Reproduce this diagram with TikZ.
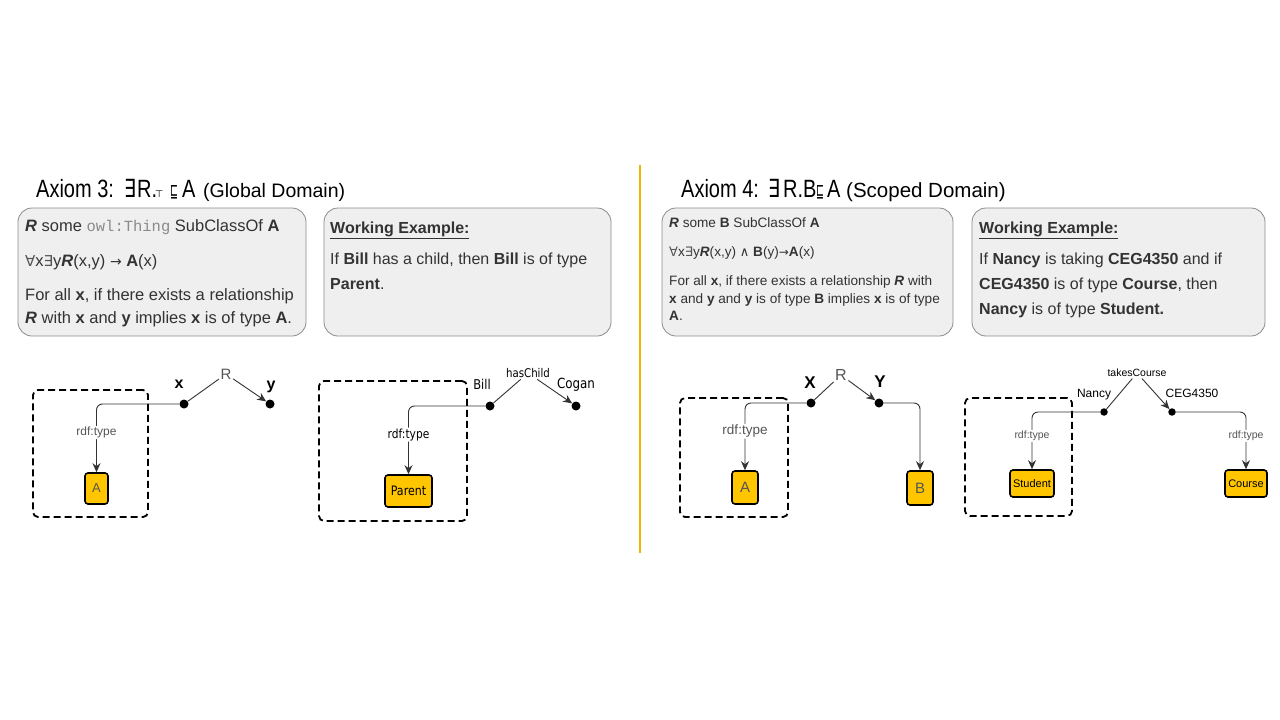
\documentclass[tikz,border=0pt]{standalone}
\usepackage{fontspec}
\setmainfont{Liberation Sans}
\setmonofont{Liberation Mono}
\newfontfamily\titlefont[FakeStretch=0.80]{Liberation Sans}
\newfontfamily\symfont{DejaVu Sans}
\newfontfamily\symtitle[FakeStretch=0.75]{DejaVu Sans}
\newfontfamily\sqfont[FakeStretch=0.5]{DejaVu Sans}
\newfontfamily\gfont[FakeStretch=0.85]{DejaVu Sans}
\usetikzlibrary{arrows.meta}
\definecolor{boxfill}{HTML}{EFEFEF}
\definecolor{boxline}{HTML}{8C8C8C}
\definecolor{gold}{HTML}{FFC600}
\definecolor{divider}{HTML}{F2B600}
\definecolor{txt}{HTML}{333333}
\definecolor{edge}{HTML}{333333}
\definecolor{soft}{HTML}{555555}
\definecolor{mono}{HTML}{8A8A8A}
\newcommand{\setfs}[1]{\fontsize{#1}{#1}\selectfont}
\begin{document}
\begin{tikzpicture}[x=1pt,y=-1pt,
  panel/.style={draw=boxline, fill=boxfill, rounded corners=14pt, line width=0.8pt, inner sep=0pt},
  frame/.style={draw=black, line width=1.8pt, dash pattern=on 7pt off 4pt, rounded corners=5pt, inner sep=0pt},
  cls/.style={draw=black, fill=gold, line width=1.6pt, rounded corners=3pt, inner sep=0pt},
  dot/.style={circle, fill=black, inner sep=0pt, minimum size=9pt},
  sdot/.style={circle, fill=black, inner sep=0pt, minimum size=7.5pt},
  lbl/.style={inner sep=0pt, anchor=base},
  tl/.style={anchor=base west, inner sep=0pt, text=txt},
  ttl/.style={anchor=base west, inner sep=0pt, text=black},
  rel/.style={inner sep=1.5pt},
  typ/.style={fill=white, inner sep=1pt, text=soft},
  link/.style={draw=edge, line width=0.9pt},
  arr/.style={link, -{Stealth[length=9pt,width=8pt]}}
]
\useasboundingbox (0,0) rectangle (1280,720);
\fill[white] (0,0) rectangle (1280,720);

% divider
\draw[divider, line width=1.5pt] (640,165) -- (640,553);

% title of axiom 3
\node[ttl, font=\titlefont\setfs{25}] (t3a) at (36,197) {Axiom 3:};
\node[ttl, font=\symtitle\setfs{25}] (t3b) at (124,197) {∃};
\node[ttl, font=\titlefont\setfs{25}] (t3c) at (137,197) {R.};
\node[ttl, font=\symfont\setfs{9.5}] (t3d) at (155,197) {⊤};
\node[ttl, font=\sqfont\setfs{19}] (t3e) at (170,197) {⊑};
\node[ttl, font=\titlefont\setfs{25}] (t3f) at (182,197) {A};
\node[ttl, font=\setfs{19.5}] (t3g) at (203,197) {(Global Domain)};

% title of axiom 4
\node[ttl, font=\titlefont\setfs{25}] (t4a) at (681,197) {Axiom 4:};
\node[ttl, font=\symtitle\setfs{25}] (t4b) at (768,197) {∃};
\node[ttl, font=\titlefont\setfs{25}] (t4c) at (783,197) {R.B};
\node[ttl, font=\sqfont\setfs{19}] (t4e) at (816,197) {⊑};
\node[ttl, font=\titlefont\setfs{25}] (t4f) at (827,197) {A};
\node[ttl, font=\setfs{20.5}] (t4g) at (846,197) {(Scoped Domain)};

% panels
\node[panel, minimum width=288pt, minimum height=128pt] (p1) at (162,272) {};
\node[panel, minimum width=287pt, minimum height=128pt] (p2) at (467.5,272) {};
\node[panel, minimum width=291pt, minimum height=128pt] (p3) at (807.5,272) {};
\node[panel, minimum width=293pt, minimum height=128pt] (p4) at (1118.5,272) {};

% panel 1 text
\node[tl, font=\setfs{16.5}] (p1a) at (25,231) {\textbf{\textit{R}} some {\ttfamily\color{mono}\setfs{15.5}owl:Thing} SubClassOf \textbf{A}};
\node[tl, font=\setfs{16.5}] (p1b) at (25,266) {{\symfont\color{soft}\setfs{15}∀}x{\symfont\color{soft}\setfs{15}∃}y\textbf{\textit{R}}(x,y) {\symfont\setfs{14}→} \textbf{A}(x)};
\node[tl, font=\setfs{16.5}] (p1c) at (25,300) {For all \textbf{x}, if there exists a relationship};
\node[tl, font=\setfs{16.5}] (p1d) at (25,323) {\textbf{\textit{R}} with \textbf{x} and \textbf{y} implies \textbf{x} is of type \textbf{A}.};

% panel 2 text
\node[tl, font=\setfs{16}] (p2a) at (330,233) {\textbf{\underline{Working Example:}}};
\node[tl, font=\setfs{16}] (p2b) at (330,264) {If \textbf{Bill} has a child, then \textbf{Bill} is of type};
\node[tl, font=\setfs{16}] (p2c) at (330,289) {\textbf{Parent}.};

% panel 3 text
\node[tl, font=\setfs{13.6}] (p3a) at (669,227) {\textbf{\textit{R}} some \textbf{B} SubClassOf \textbf{A}};
\node[tl, font=\setfs{13.6}] (p3b) at (669,256) {{\symfont\color{soft}\setfs{13}∀}x{\symfont\color{soft}\setfs{13}∃}y\textbf{\textit{R}}(x,y) {\symfont\setfs{13}∧} \textbf{B}(y){\symfont\setfs{12}→}\textbf{A}(x)};
\node[tl, font=\setfs{13.6}] (p3c) at (669,285) {For all \textbf{x}, if there exists a relationship \textbf{\textit{R}} with};
\node[tl, font=\setfs{13.6}] (p3d) at (669,303) {\textbf{x} and \textbf{y} and \textbf{y} is of type \textbf{B} implies \textbf{x} is of type};
\node[tl, font=\setfs{13.6}] (p3e) at (669,320) {\textbf{A}.};

% panel 4 text
\node[tl, font=\setfs{16}] (p4a) at (979,233) {\textbf{\underline{Working Example:}}};
\node[tl, font=\setfs{16}] (p4b) at (979,264) {If \textbf{Nancy} is taking \textbf{CEG4350} and if};
\node[tl, font=\setfs{16}] (p4c) at (979,289) {\textbf{CEG4350} is of type \textbf{Course}, then};
\node[tl, font=\setfs{16}] (p4d) at (979,314) {\textbf{Nancy} is of type \textbf{Student.}};

% ---------- diagram 1 ----------
\node[frame, minimum width=115pt, minimum height=127pt] (f1) at (90.5,453.5) {};
\node[dot] (x1) at (184,404) {};
\node[dot] (y1) at (270,404) {};
\node[rel, font=\setfs{15}, text=soft] (r1) at (226,374) {R};
\node[cls, minimum width=23pt, minimum height=31pt, font=\setfs{13}, text=soft] (a1) at (96.5,488.5) {A};
\node[lbl, font=\bfseries\setfs{16}] (xl1) at (179,388) {x};
\node[lbl, font=\bfseries\setfs{16}] (yl1) at (271,389) {y};
\draw[link] (x1) -- (r1);
\draw[arr] (r1) -- (y1);
\draw[arr, rounded corners=6pt] (x1) -| node[typ, pos=0.71, font=\setfs{12}] (ty1) {rdf:type} (a1);

% ---------- diagram 2 ----------
\node[frame, minimum width=148pt, minimum height=140pt] (f2) at (393,451) {};
\node[dot] (bill) at (490,406) {};
\node[dot] (cogan) at (576,406) {};
\node[rel, font=\gfont\setfs{12}] (hc) at (528,373) {hasChild};
\node[cls, minimum width=47pt, minimum height=32pt, font=\gfont\setfs{13}] (par) at (408.5,491) {Parent};
\node[lbl, font=\gfont\setfs{13.5}] (billl) at (482,389) {Bill};
\node[lbl, font=\gfont\setfs{14}] (cogl) at (576,388) {Cogan};
\draw[link] (bill) -- (hc);
\draw[arr] (hc) -- (cogan);
\draw[arr, rounded corners=6pt] (bill) -| node[typ, pos=0.71, font=\gfont\setfs{12.5}, text=black] (ty2) {rdf:type} (par);

% ---------- diagram 3 ----------
\node[frame, minimum width=108pt, minimum height=119pt] (f3) at (734,457.5) {};
\node[dot] (xx) at (811,403) {};
\node[dot] (yy) at (879,403) {};
\node[rel, font=\setfs{16}, text=soft] (r3) at (841,375) {R};
\node[cls, minimum width=26pt, minimum height=33pt, font=\setfs{15}, text=soft] (a3) at (745,487.5) {A};
\node[cls, minimum width=26pt, minimum height=34pt, font=\setfs{15}, text=soft] (b3) at (920,488) {B};
\node[lbl, font=\bfseries\setfs{17}] (xl3) at (810,388) {X};
\node[lbl, font=\bfseries\setfs{17}] (yl3) at (880,387) {Y};
\draw[link] (xx) -- (r3);
\draw[arr] (r3) -- (yy);
\draw[arr, rounded corners=6pt] (xx) -| node[typ, pos=0.71, font=\setfs{13.5}] (ty3) {rdf:type} (a3);
\draw[arr, rounded corners=6pt] (yy) -| (b3);

% ---------- diagram 4 ----------
\node[frame, minimum width=107pt, minimum height=118pt] (f4) at (1018.5,457) {};
\node[sdot] (nancy) at (1104,412) {};
\node[sdot] (ceg) at (1172,412) {};
\node[rel, font=\setfs{10.5}] (tc) at (1137,373) {takesCourse};
\node[cls, minimum width=44pt, minimum height=27pt, font=\setfs{11}] (stu) at (1032,483.5) {Student};
\node[cls, minimum width=42pt, minimum height=27pt, font=\setfs{11}] (crs) at (1246,483.5) {Course};
\node[lbl, font=\setfs{12}] (nl) at (1094,397) {Nancy};
\node[lbl, font=\setfs{12}] (cl) at (1192,397) {CEG4350};
\draw[link] (nancy) -- (tc);
\draw[arr] (tc) -- (ceg);
\draw[arr, rounded corners=6pt] (nancy) -| node[typ, pos=0.71, font=\setfs{10.5}] (ty4) {rdf:type} (stu);
\draw[arr, rounded corners=6pt] (ceg) -| node[typ, pos=0.71, font=\setfs{10.5}] (ty5) {rdf:type} (crs);
\end{tikzpicture}
\end{document}
